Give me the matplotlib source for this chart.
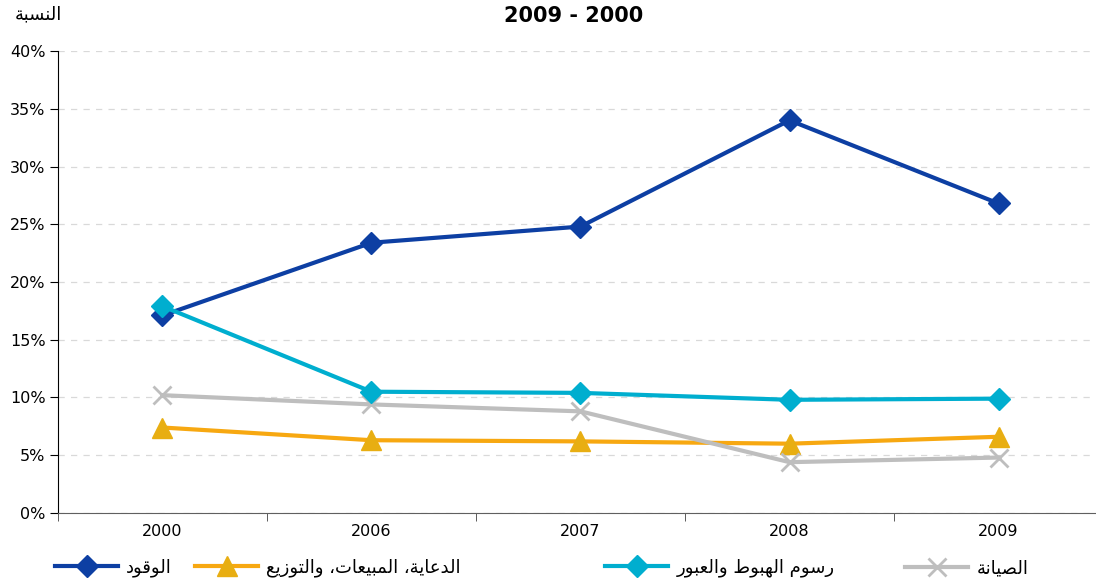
import matplotlib
matplotlib.use("Agg")
import matplotlib.pyplot as plt
from matplotlib.ticker import FuncFormatter

years = ["2000", "2006", "2007", "2008", "2009"]
fuel = [17.1, 23.4, 24.8, 34.0, 26.8]
promo = [7.4, 6.3, 6.2, 6.0, 6.6]
landing = [17.9, 10.5, 10.4, 9.8, 9.9]
maint = [10.2, 9.4, 8.8, 4.4, 4.8]

lbl_fuel = "الوقود"
lbl_promo = "الدعاية، المبيعات، والتوزيع"
lbl_landing = "رسوم الهبوط والعبور"
lbl_maint = "الصيانة"
ylab = "النسبة"
title = "2009 - 2000"

# minimal arabic shaping (matplotlib has no complex text layout)
FORMS = {
    "ا": ("\uFE8D", "\uFE8E", None, None),
    "ب": ("\uFE8F", "\uFE90", "\uFE91", "\uFE92"),
    "ة": ("\uFE93", "\uFE94", None, None),
    "ت": ("\uFE95", "\uFE96", "\uFE97", "\uFE98"),
    "د": ("\uFEA9", "\uFEAA", None, None),
    "ر": ("\uFEAD", "\uFEAE", None, None),
    "ز": ("\uFEAF", "\uFEB0", None, None),
    "س": ("\uFEB1", "\uFEB2", "\uFEB3", "\uFEB4"),
    "ص": ("\uFEB9", "\uFEBA", "\uFEBB", "\uFEBC"),
    "ط": ("\uFEC1", "\uFEC2", "\uFEC3", "\uFEC4"),
    "ع": ("\uFEC9", "\uFECA", "\uFECB", "\uFECC"),
    "ق": ("\uFED5", "\uFED6", "\uFED7", "\uFED8"),
    "ل": ("\uFEDD", "\uFEDE", "\uFEDF", "\uFEE0"),
    "م": ("\uFEE1", "\uFEE2", "\uFEE3", "\uFEE4"),
    "ن": ("\uFEE5", "\uFEE6", "\uFEE7", "\uFEE8"),
    "ه": ("\uFEE9", "\uFEEA", "\uFEEB", "\uFEEC"),
    "و": ("\uFEED", "\uFEEE", None, None),
    "ي": ("\uFEF1", "\uFEF2", "\uFEF3", "\uFEF4"),
}


def shape(s):
    out = []
    for i, c in enumerate(s):
        if c not in FORMS:
            out.append(c)
            continue
        prev = s[i - 1] if i > 0 else None
        nxt = s[i + 1] if i + 1 < len(s) else None
        jp = prev in FORMS and FORMS[prev][2] is not None
        jn = FORMS[c][2] is not None and nxt in FORMS
        iso, fin, ini, med = FORMS[c]
        if jp and jn:
            out.append(med)
        elif jp:
            out.append(fin)
        elif jn:
            out.append(ini)
        else:
            out.append(iso)
    return "".join(out)[::-1]


plt.rcParams["font.family"] = ["DejaVu Sans"]

fig = plt.figure(figsize=(10.96, 5.85), dpi=100)
ax = fig.add_axes([0.0529, 0.1231, 0.9535, 0.7897])

x = range(len(years))
ax.plot(x, fuel, color="#0D3FA3", lw=3, marker="D", ms=11, label=shape(lbl_fuel), zorder=3)
ax.plot(x, promo, color="#F7A811", lw=3, marker="^", ms=14, mfc="#E8AE12", mec="#E8AE12",
        label=shape(lbl_promo), zorder=3)
ax.plot(x, landing, color="#00AECF", lw=3, marker="D", ms=11, label=shape(lbl_landing), zorder=4)
ax.plot(x, maint, color="#BEBEBE", lw=3, marker="x", ms=13, mew=2, label=shape(lbl_maint), zorder=3)

ax.set_xlim(-0.5, len(years) - 0.5)
ax.set_ylim(0, 40)
ax.set_yticks(range(0, 41, 5))
ax.yaxis.set_major_formatter(FuncFormatter(lambda v, p: f"{v:.0f}%"))
ax.set_xticks(list(x))
ax.set_xticklabels(years)
ax.set_xticks([i + 0.5 for i in range(-1, len(years))], minor=True)
ax.tick_params(axis="x", which="major", length=0, pad=8, labelsize=11.5)
ax.tick_params(axis="x", which="minor", length=6, color="#404040", direction="out")
ax.tick_params(axis="y", length=6, pad=3, labelsize=11.5, direction="out")
ax.grid(axis="y", color="#D9D9D9", ls=(0, (5, 5)), lw=0.9)
ax.set_axisbelow(True)
for s in ("top", "right"):
    ax.spines[s].set_visible(False)
ax.spines["bottom"].set_color("#606060")

fig.text(0.523, 0.972, title, ha="center", va="center", fontsize=15, fontweight="bold")
fig.text(0.035, 0.976, shape(ylab), ha="center", va="center", fontsize=13)

handles, labels = ax.get_legend_handles_labels()
lx = [55, 195, 605, 905]
for h, l, px in zip(handles, labels, lx):
    fig.legend([h], [l], loc="center left", bbox_to_anchor=(px / 1096, 1 - 568 / 585),
               frameon=False, fontsize=13, handlelength=3.5, handletextpad=0.45,
               borderpad=0, borderaxespad=0)

fig.savefig("out.png", dpi=100)
